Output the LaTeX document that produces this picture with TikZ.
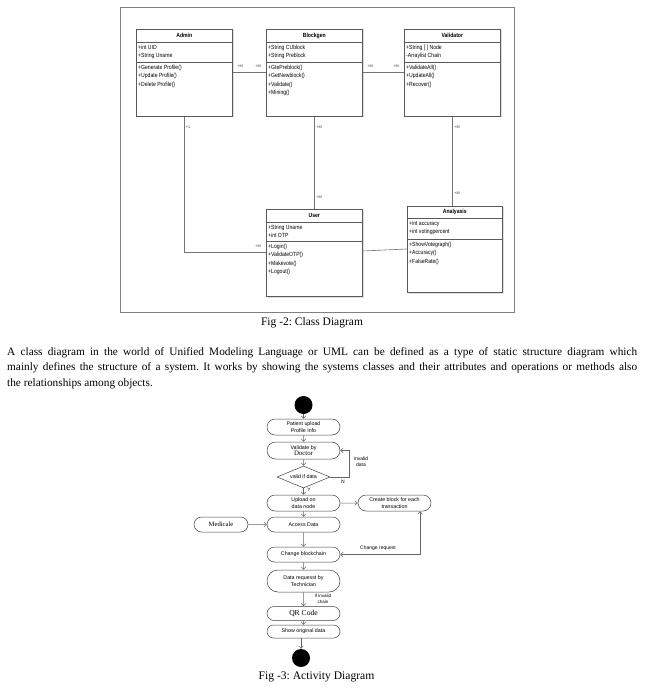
\documentclass[tikz,border=0pt]{standalone}
\usepackage{fontspec}
\setmainfont{Liberation Serif}
\setsansfont{Liberation Sans}
\newfontfamily\narrowsans[FakeStretch=0.85]{Liberation Sans}
\usetikzlibrary{arrows.meta,shapes.geometric,shapes.misc,shadows}
\frenchspacing

\newcommand\umlclass[9]{%
 \node[classbox, minimum width=#3pt, minimum height=#4pt, anchor=north west] (#1) at #2 {};
 \draw[classline] ([yshift=-#5pt]#1.north west) -- ([yshift=-#5pt]#1.north east);
 \draw[classline] ([yshift={-(#5+#6)*1pt}]#1.north west) -- ([yshift={-(#5+#6)*1pt}]#1.north east);
 \node[classtitle] (#1-title) at ([yshift={-#5*0.5pt}]#1.north) {#7};
 \node[classtext, anchor=north west] (#1-attr) at ([xshift=2pt,yshift={-(#5+2.6)*1pt}]#1.north west) {#8};
 \node[classtext, anchor=north west] (#1-ops) at ([xshift=2pt,yshift={-(#5+#6+2.6)*1pt}]#1.north west) {#9};
}

\begin{document}
\begin{tikzpicture}[x=1pt,y=-1pt,
  classbox/.style={draw=black!65, line width=0.6pt, fill=white, inner sep=0,
    drop shadow={opacity=0.25, shadow xshift=1.2pt, shadow yshift=-1.2pt}},
  classline/.style={draw=black!65, line width=0.6pt},
  assoc/.style={draw=black!55, line width=0.6pt},
  classtitle/.style={font=\fontsize{6}{7}\selectfont\narrowsans\bfseries, inner sep=0},
  classtext/.style={font=\fontsize{6}{8.5}\selectfont\narrowsans, align=left, inner sep=0},
  mult/.style={font=\fontsize{3.8}{4}\selectfont\sffamily, inner sep=0, text=black!80},
  act/.style={rounded rectangle, draw=black!75, line width=0.5pt, minimum width=73pt,
    inner sep=0, align=center, font=\fontsize{5.3}{6.3}\selectfont\sffamily},
  flow/.style={draw=black!60, line width=0.5pt, -{Straight Barb[length=2.5pt,width=4.5pt]}},
  flowboth/.style={draw=black!60, line width=0.5pt, {Straight Barb[length=2.5pt,width=4.5pt]}-{Straight Barb[length=2.5pt,width=4.5pt]}},
  lbl/.style={font=\fontsize{5}{6}\selectfont\sffamily, inner sep=0, align=center},
  dot/.style={circle, fill=black, minimum size=18pt, inner sep=0},
  para/.style={anchor=base west, inner sep=0, font=\fontsize{11.3}{13}\selectfont},
  caption/.style={inner sep=0, font=\fontsize{11.5}{13}\selectfont}
]
\useasboundingbox (0,0) rectangle (645,692);
\fill[white] (0,0) rectangle (645,692);

% ---------------- Class diagram ----------------
\node[draw=black!50, line width=0.7pt, minimum width=394pt, minimum height=305pt, anchor=north west, inner sep=0] (frame) at (120,7) {};

\umlclass{admin}{(136,29)}{96}{87}{13}{20}{Admin}{+int UID\\+String Uname}{+Generate Profile()\\+Update Profile()\\+Delete Profile()}
\umlclass{blockgen}{(266,29)}{96}{87}{13}{20}{Blockgen}{+String CUblock\\+String Preblock}{+GtePreblock()\\+GetNewblock()\\+Validate()\\+Mining()}
\umlclass{validator}{(404,29)}{96}{87}{13}{20}{Validator}{+String [ ] Node\\-Arraylist Chain}{+ValidateAll()\\+UpdateAll()\\+Recover()}
\umlclass{user}{(266,209)}{96}{87}{13}{19}{User}{+String Uname\\+int OTP}{+Login()\\+ValidateOTP()\\+Makevote()\\+Logout()}
\umlclass{analysis}{(407,206)}{95}{86}{12}{21}{Analyasis}{+int accuracy\\+int votingpercent}{+ShowVotegraph()\\+Accuracy()\\+FalseRate()}

\draw[assoc] (admin) -- (blockgen);
\draw[assoc] (blockgen) -- (validator);
\draw[assoc] (blockgen) -- (user);
\draw[assoc] (validator.south) -- (validator.south |- analysis.north);
\draw[assoc] (admin.south) |- (user.west);
\draw[assoc] ([yshift=1.8pt]user.east) -- ([yshift=0.3pt]analysis.west);

\node[mult] (m1) at (240,66) {+M};
\node[mult] (m2) at (258,66) {+M};
\node[mult] (m3) at (370,66) {+M};
\node[mult] (m4) at (396,66) {+M};
\node[mult] (m5) at (188,127) {+1};
\node[mult] (m6) at (258,246) {+M};
\node[mult] (m7) at (319,127) {+M};
\node[mult] (m8) at (319,197) {+M};
\node[mult] (m9) at (457,127) {+M};
\node[mult] (m10) at (457,193) {+M};

\node[caption] (cap2) at (312,323) {Fig -2: Class Diagram};

% ---------------- Paragraph ----------------
\node[para] (p1) at (7,355) {\makebox[630pt][s]{A class diagram in the world of Unified Modeling Language or UML can be defined as a type of static structure diagram which}};
\node[para] (p2) at (7,370.5) {\makebox[630pt][s]{mainly defines the structure of a system. It works by showing the systems classes and their attributes and operations or methods also}};
\node[para] (p3) at (7,386) {the relationships among objects.};

% ---------------- Activity diagram ----------------
\node[dot] (start) at (303.5,405) {};
\node[act, minimum height=16pt] (patient) at (303.5,427) {Patient upload\\Profile Info};
\node[act, minimum height=17pt] (validate) at (303.5,450.5) {Validate by\\{\fontsize{6.8}{7}\selectfont\rmfamily Doctor}};
\node[diamond, draw=black!75, line width=0.5pt, minimum width=53pt, minimum height=22pt, inner sep=0] (dia) at (303.5,477) {};
\node[lbl, font=\fontsize{5.3}{6}\selectfont\sffamily] (diatext) at (dia) {valid if data};
\node[act, minimum height=16pt] (upload) at (303.5,503) {Upload on\\data node};
\node[act, minimum height=16pt] (create) at (394.5,503) {Create block for each\\transaction};
\node[act, minimum height=15pt] (access) at (303.5,524.5) {Access Data};
\node[act, minimum height=15pt, minimum width=54pt, font=\fontsize{6.6}{7}\selectfont\rmfamily] (medicale) at (221,524.5) {Medicale};
\node[act, minimum height=15pt] (change) at (303.5,554.5) {Change blockchain};
\node[act, minimum height=22pt] (datareq) at (303.5,581) {Data requesst by\\Technician};
\node[act, minimum height=14pt, font=\fontsize{7.6}{8}\selectfont\rmfamily] (qr) at (303.5,613.5) {QR Code};
\node[act, minimum height=13pt] (show) at (303.5,631.5) {Show original data};
\node[dot] (end) at (301,658) {};

\coordinate (fb) at (349,477);
\coordinate (cr) at (420,554.5);

\draw[flow] (start) -- (patient);
\draw[flow] (patient) -- (validate);
\draw[flow] (validate) -- (dia);
\draw[flow] (dia) -- (upload);
\draw[flow] (dia.east) -- (fb) |- (validate.east);
\draw[flow] (upload) -- (create);
\draw[flow] (upload) -- (access);
\draw[flow] (medicale) -- (access);
\draw[flow] (access) -- (change);
\draw[flowboth] (change.east) -- (cr) -- (cr |- create.south);
\draw[flow] (change) -- (datareq);
\draw[flow] (datareq) -- (qr);
\draw[flow] (qr) -- (show);
\draw[flow] (show.south -| end.north) -- (end.north);

\node[lbl] (ylbl) at (309,490) {Y};
\node[lbl] (nlbl) at (343,482) {N};
\node[lbl] (invlbl) at (361,462) {invalid\\data};
\node[lbl] (crlbl) at (378,548) {Change request};
\node[lbl, font=\fontsize{4.5}{5.5}\selectfont\sffamily] (iclbl) at (323,599) {if invalid\\chain};

\node[caption, font=\fontsize{11.6}{13}\selectfont] (cap3) at (316.5,677) {Fig -3: Activity Diagram};
\end{tikzpicture}
\end{document}
